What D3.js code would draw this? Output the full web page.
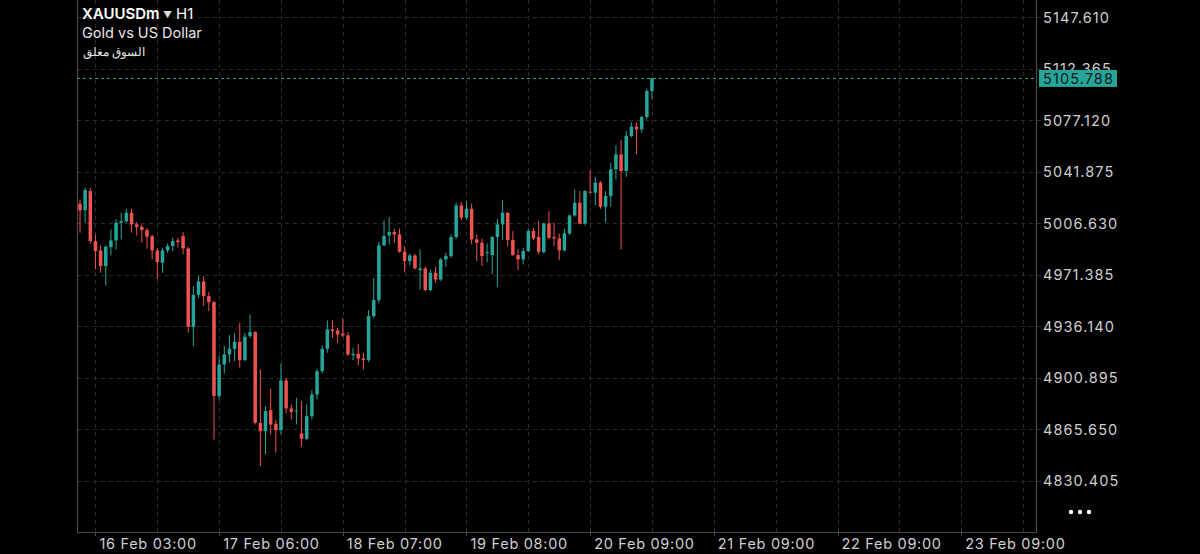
<!DOCTYPE html>
<html>
<head>
<meta charset="utf-8">
<script src="https://cdnjs.cloudflare.com/ajax/libs/d3/7.8.5/d3.min.js"></script>
<style>
  html, body { margin: 0; padding: 0; background: #000; }
  svg { display: block; }
  text { font-family: Inter, "Noto Sans", sans-serif; }
</style>
</head>
<body>
<svg id="chart" width="1200" height="554"></svg>
<script>
// XAUUSDm H1 candles, 16 Feb -> 20 Feb
const opens = [5020.08,5015.75,5028.75,4994.53,4988.14,4977.42,4990.43,4994.99,5007.08,5008.00,
  5013.92,5005.94,5004.30,5002.06,4997.90,4988.14,4979.70,4988.14,4991.11,4994.99,
  4997.95,4989.51,4935.90,4957.80,4966.93,4956.89,4952.78,4888.45,4910.12,4916.97,
  4920.85,4925.64,4913.09,4929.51,4932.25,4870.20,4864.50,4878.87,4869.51,4865.18,
  4899.17,4880.01,4878.18,4862.90,4859.25,4874.76,4889.59,4905.56,4920.84,4934.08,
  4933.40,4931.34,4930.00,4916.51,4917.42,4914.23,4913.09,4943.20,4954.15,4991.56,
  4998.40,5000.69,4999.09,4987.23,4980.84,4984.72,4974.68,4975.82,4960.99,4972.86,
  4968.29,4981.98,4984.26,4997.27,5018.94,5010.50,5016.66,4995.67,4993.39,4986.55,
  4984.95,4997.27,5005.94,5013.92,4995.22,4984.95,4981.99,4987.69,5001.38,4997.27,
  4987.00,5006.62,4997.27,4996.36,4988.15,4999.78,5012.10,5020.77,5006.40,5028.30,
  5027.61,5034.46,5018.03,5025.33,5043.58,5053.85,5042.44,5066.39,5072.78,5070.96,
  5079.40,5097.19];
const highs = [5023.05,5031.03,5031.03,4999.09,4991.57,4991.57,5002.52,5009.36,5013.92,5016.66,
  5016.66,5007.54,5005.94,5003.66,4999.09,4989.74,4989.97,4992.93,4996.81,4996.81,
  5000.69,4990.65,4963.73,4970.58,4970.58,4959.63,4953.47,4915.83,4922.67,4930.20,
  4931.80,4938.64,4931.80,4944.34,4932.94,4906.70,4881.61,4893.47,4872.48,4910.81,
  4901.00,4882.75,4887.31,4885.03,4882.75,4892.56,4907.16,4923.13,4940.24,4940.24,
  4935.22,4942.06,4932.25,4921.53,4924.27,4918.11,4947.31,4969.44,4993.85,5008.67,
  5010.96,5002.97,5002.97,4991.11,4986.09,4985.86,4988.83,4976.96,4975.14,4976.96,
  4983.12,4986.55,4999.09,5020.76,5021.22,5021.91,5020.31,4999.10,4996.13,4992.94,
  4997.95,5009.82,5022.59,5014.38,5001.38,4988.83,4989.97,5002.97,5003.66,5008.22,
  5007.08,5015.06,5007.08,4999.78,5002.97,5012.56,5029.89,5028.75,5029.44,5042.90,
  5038.56,5035.60,5028.75,5048.14,5060.01,5063.66,5069.82,5075.98,5075.52,5080.08,
  5098.79,5106.32];
const lows = [5000.24,5007.08,4992.93,4975.14,4972.86,4964.19,4984.72,4988.83,4995.67,5007.08,
  5000.24,4998.41,4993.39,4989.29,4981.98,4968.30,4972.86,4986.55,4987.69,4989.97,
  4985.41,4931.80,4922.67,4955.75,4950.05,4946.62,4858.79,4886.17,4903.96,4911.26,
  4912.41,4907.84,4912.41,4928.37,4869.06,4840.54,4848.53,4862.21,4849.67,4862.21,
  4876.59,4872.48,4869.06,4853.77,4858.34,4872.48,4886.17,4903.96,4918.11,4928.37,
  4924.95,4929.06,4915.82,4913.09,4909.44,4906.70,4911.72,4942.06,4952.33,4991.11,
  4992.25,4993.39,4986.55,4973.31,4977.88,4975.14,4961.45,4960.31,4960.31,4966.01,
  4967.15,4976.96,4983.12,4996.13,5008.90,5008.91,4992.25,4980.85,4977.42,4980.16,
  4971.72,4963.28,4995.22,4991.11,4984.27,4974.69,4978.56,4987.00,4995.22,4985.41,
  4986.09,4995.67,4991.11,4981.53,4987.46,4998.64,5011.19,5005.94,5005.26,5027.16,
  5018.94,5016.66,5007.08,5018.03,5036.74,4988.83,5038.56,5065.50,5053.85,5068.68,
  5077.80,5091.49];
const closes = [5015.52,5029.44,4994.53,4987.69,4977.42,4990.65,4994.99,5007.08,5008.22,5013.92,
  5005.94,5004.11,5002.06,4997.50,4988.14,4980.16,4988.14,4991.11,4994.53,4993.85,
  4989.51,4935.90,4957.80,4966.93,4956.89,4952.78,4888.45,4910.12,4916.97,4920.85,
  4925.64,4913.09,4929.06,4932.25,4870.20,4864.50,4878.19,4869.06,4865.18,4899.17,
  4880.01,4877.73,4878.64,4859.25,4874.76,4889.59,4905.56,4920.84,4934.08,4932.93,
  4930.65,4929.97,4916.97,4917.42,4914.23,4913.09,4943.20,4954.15,4991.56,4997.95,
  5000.69,4999.09,4987.23,4980.84,4984.72,4975.82,4975.82,4960.99,4972.86,4968.29,
  4981.98,4984.26,4997.27,5018.94,5010.50,5016.66,4995.67,4993.39,4984.27,4987.00,
  4997.27,5005.94,5013.92,4995.22,4984.95,4981.99,4987.69,5001.38,4996.36,4987.23,
  5006.62,4996.81,4996.36,4988.15,4999.78,5012.10,5020.77,5006.40,5028.75,5027.61,
  5034.46,5018.03,5025.33,5043.58,5053.85,5042.44,5066.39,5072.78,5070.96,5079.40,
  5097.19,5105.788];

const priceTicks = [5147.610, 5112.365, 5077.120, 5041.875, 5006.630, 4971.385, 4936.140, 4900.895, 4865.650, 4830.405];
const timeLabels = ["16 Feb 03:00", "17 Feb 06:00", "18 Feb 07:00", "19 Feb 08:00", "20 Feb 09:00", "21 Feb 09:00", "22 Feb 09:00", "23 Feb 09:00"];
const timeLabelBars = [3, 27, 51, 75, 99, 123, 147, 171];
const lastPrice = 5105.788;

const W = 1200, H = 554;
const plot = { left: 77, right: 1036, top: 0, bottom: 532 };
const upColor = "#26a69a", downColor = "#ef5350";

const svg = d3.select("#chart");
svg.append("rect").attr("width", W).attr("height", H).attr("fill", "#000");

const candles = opens.map((o, i) => ({ i, o, h: highs[i], l: lows[i], c: closes[i] }));

const x = d3.scaleLinear().domain([0, candles.length - 1]).range([80, 652]);
const y = d3.scaleLinear().domain([4830.405, 5147.610]).range([481, 17.3]);

// grid
const grid = svg.append("g").attr("stroke", "#2c2c2c").attr("stroke-dasharray", "4,4");
grid.selectAll("line.h")
  .data(priceTicks)
  .join("line")
  .attr("x1", plot.left).attr("x2", plot.right + 5)
  .attr("y1", d => Math.round(y(d)) + 0.5).attr("y2", d => Math.round(y(d)) + 0.5);
grid.selectAll("line.v")
  .data(d3.range(3, 186, 12))
  .join("line")
  .attr("x1", d => Math.round(x(d)) + 0.5).attr("x2", d => Math.round(x(d)) + 0.5)
  .attr("y1", plot.top).attr("y2", plot.bottom);

// frame
const frame = svg.append("g").attr("stroke", "#4a4a4a").attr("stroke-width", 1.2).attr("fill", "none");
frame.append("path").attr("d", `M${plot.left + 0.5},0V${plot.bottom + 0.5}H${plot.right + 0.5}V0`);

// x ticks + labels
svg.append("g").selectAll("line")
  .data(timeLabelBars)
  .join("line")
  .attr("x1", d => Math.round(x(d)) + 0.5).attr("x2", d => Math.round(x(d)) + 0.5)
  .attr("y1", plot.bottom).attr("y2", plot.bottom + 4)
  .attr("stroke", "#4a4a4a");
svg.append("g").selectAll("text")
  .data(timeLabels)
  .join("text")
  .attr("x", (d, k) => x(timeLabelBars[k]) + 4)
  .attr("y", 549)
  .attr("fill", "#cfcfcf")
  .attr("font-size", 14.5)
  .attr("letter-spacing", 0.7)
  .text(d => d);

// y labels
svg.append("g").selectAll("text")
  .data(priceTicks)
  .join("text")
  .attr("x", 1043)
  .attr("y", d => y(d))
  .attr("dy", "0.36em")
  .attr("fill", "#cfcfcf")
  .attr("font-size", 14.5)
  .attr("letter-spacing", 1.1)
  .text(d => d.toFixed(3));

// candles
const cg = svg.append("g");
cg.selectAll("line")
  .data(candles)
  .join("line")
  .attr("x1", d => x(d.i)).attr("x2", d => x(d.i))
  .attr("y1", d => y(d.h)).attr("y2", d => y(d.l))
  .attr("stroke", d => d.c >= d.o ? upColor : downColor)
  .attr("stroke-width", 1);
cg.selectAll("rect")
  .data(candles)
  .join("rect")
  .attr("x", d => x(d.i) - 1.75)
  .attr("width", 3.5)
  .attr("y", d => y(Math.max(d.o, d.c)))
  .attr("height", d => Math.max(1, Math.abs(y(d.o) - y(d.c))))
  .attr("fill", d => d.c >= d.o ? upColor : downColor);

// last price line + label
svg.append("line")
  .attr("x1", plot.left).attr("x2", plot.right)
  .attr("y1", y(lastPrice)).attr("y2", y(lastPrice))
  .attr("stroke", upColor).attr("stroke-dasharray", "3,3");
svg.append("rect")
  .attr("x", 1039).attr("y", y(lastPrice) - 8.5)
  .attr("width", 78).attr("height", 17)
  .attr("fill", upColor);
svg.append("text")
  .attr("x", 1043).attr("y", y(lastPrice))
  .attr("dy", "0.36em")
  .attr("fill", "#0b1a18")
  .attr("font-size", 14.5)
  .attr("letter-spacing", 1.1)
  .text(lastPrice.toFixed(3));

// header
svg.append("text").attr("x", 82).attr("y", 19).attr("fill", "#fff")
  .attr("font-size", 15).attr("font-weight", 600).text("XAUUSDm");
svg.append("text").attr("x", 163).attr("y", 18).attr("fill", "#ddd")
  .attr("font-size", 9).text("▼");
svg.append("text").attr("x", 176).attr("y", 19).attr("fill", "#fff")
  .attr("font-size", 15).text("H1");
svg.append("text").attr("x", 145).attr("y", 56).attr("fill", "#e6e6e6")
  .attr("text-anchor", "end")
  .attr("font-family", "'Noto Sans', 'DejaVu Sans', sans-serif")
  .attr("font-size", 12).text("السوق مغلق");
svg.append("text").attr("x", 82).attr("y", 38).attr("fill", "#e6e6e6")
  .attr("font-size", 14.5).text("Gold vs US Dollar");

// more dots
svg.append("g").selectAll("circle")
  .data([0, 1, 2])
  .join("circle")
  .attr("cx", d => 1071 + d * 9).attr("cy", 512).attr("r", 2.2)
  .attr("fill", "#fff");
</script>
</body>
</html>
